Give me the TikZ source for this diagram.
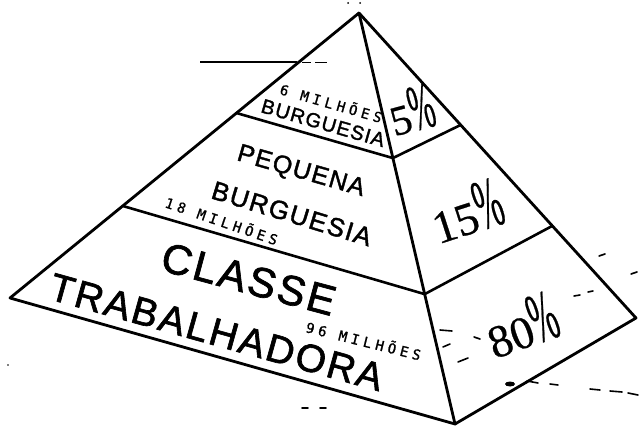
\documentclass[tikz,border=0pt]{standalone}
\usepackage{fontspec}
\usepackage{graphicx}
\setmainfont{Liberation Sans}
\newfontfamily\lblfont[LetterSpace=6,FakeBold=1.6]{Liberation Sans}
\newfontfamily\twfont[LetterSpace=30,FakeBold=1.2]{DejaVu Sans Mono}
\newfontfamily\pcfont[FakeBold=0.6]{Liberation Serif}
\usetikzlibrary{calc}
\tikzset{
  edge/.style={line width=2.8pt, line cap=round, line join=round},
  band/.style={line width=2.6pt, line cap=round},
  lbl/.style={inner sep=0pt, outer sep=0pt},
  speck/.style={line width=1.6pt, line cap=round},
}
\newcommand{\pcsign}{\scalebox{0.7}[1.55]{\%}}
\begin{document}
\begin{tikzpicture}[x=1pt,y=-1pt]
\useasboundingbox (0,0) rectangle (639,427);
% corners
\coordinate (A) at (359,13);
\coordinate (L) at (10,298);
\coordinate (F) at (455,424);
\coordinate (R) at (636,318);
% band boundaries
\coordinate (T1) at ($(A)!0.351!(L)$);
\coordinate (T2) at ($(A)!0.353!(F)$);
\coordinate (T3) at ($(A)!0.367!(R)$);
\coordinate (S1) at ($(A)!0.677!(L)$);
\coordinate (S2) at ($(A)!0.684!(F)$);
\coordinate (S3) at ($(A)!0.698!(R)$);
% outline
\draw[edge] (A) -- (L) -- (F) -- (R) -- cycle;
\draw[edge] (A) -- (F);
\draw[band] (T1) -- (T2) -- (T3);
\draw[band] (S1) -- (S2) -- (S3);
% horizon line at top left
\coordinate (H1) at (200,62);
\coordinate (H2) at (297,62);
\coordinate (H3) at (302,62.5);
\coordinate (H4) at (311,62.5);
\coordinate (H5) at (315,62.5);
\coordinate (H6) at (327,62.5);
\draw[line width=1.7pt] (H1) -- (H2);
\draw[line width=1.3pt] (H3) -- (H4);
\draw[line width=1.3pt] (H5) -- (H6);
% texts
\node[lbl, anchor=base west, rotate=-16] (m6) at (279,94) {\twfont\fontsize{14}{14}\selectfont 6 MILHÕES};
\node[lbl, anchor=base west, rotate=-16] (b1) at (260,112) {\lblfont\fontsize{20}{20}\selectfont BURGUESIA};
\node[lbl, rotate=15] (p5) at (411,110) {\pcfont\fontsize{42}{42}\selectfont 5\pcsign};
\node[lbl, anchor=base west, rotate=-16] (pq) at (236,160) {\lblfont\fontsize{25}{25}\selectfont PEQUENA};
\node[lbl, anchor=base west, rotate=-17] (b2) at (210,198) {\lblfont\fontsize{26}{26}\selectfont BURGUESIA};
\node[lbl, anchor=base west, rotate=-19] (m18) at (164,207) {\twfont\fontsize{14}{14}\selectfont 18 MILHÕES};
\node[lbl, rotate=18] (p15) at (466,211) {\pcfont\fontsize{46}{46}\selectfont 15\pcsign};
\node[lbl, anchor=base, rotate=-15] (cl) at (245,293) {\lblfont\fontsize{42}{42}\selectfont CLASSE};
\node[lbl, anchor=base, rotate=-15.6] (tr) at (213,345) {\lblfont\fontsize{39}{39}\selectfont TRABALHADORA};
\node[lbl, anchor=base west, rotate=-14] (m96) at (305,332) {\twfont\fontsize{14}{14}\selectfont 96 MILHÕES};
\node[lbl, rotate=20] (p80) at (521,325) {\pcfont\fontsize{46}{46}\selectfont 80\pcsign};
% scanner specks
\fill (348,3) circle (1pt);
\fill (360,3) circle (1pt);
\draw[speck] (440,330) -- (452,331);
\draw[speck] (443,347) -- (450,344);
\draw[speck] (458,362) -- (468,358);
\draw[speck] (474,337) -- (480,339);
\fill (510,384) ellipse (5pt and 2.5pt);
\draw[speck] (527,381) -- (538,383);
\draw[speck] (550,384) -- (558,385);
\draw[speck] (590,389) -- (600,390);
\draw[speck] (610,391) -- (622,392);
\draw[speck] (628,393) -- (638,395);
\draw[speck] (599,256) -- (605,254);
\draw[speck] (574,296) -- (580,295);
\draw[speck] (588,292) -- (593,291);
\draw[speck] (631,274) -- (637,272);
\draw[speck] (302,408) -- (308,408);
\draw[speck] (320,408) -- (326,408);
\fill (8,365) circle (0.8pt);
\end{tikzpicture}
\end{document}
